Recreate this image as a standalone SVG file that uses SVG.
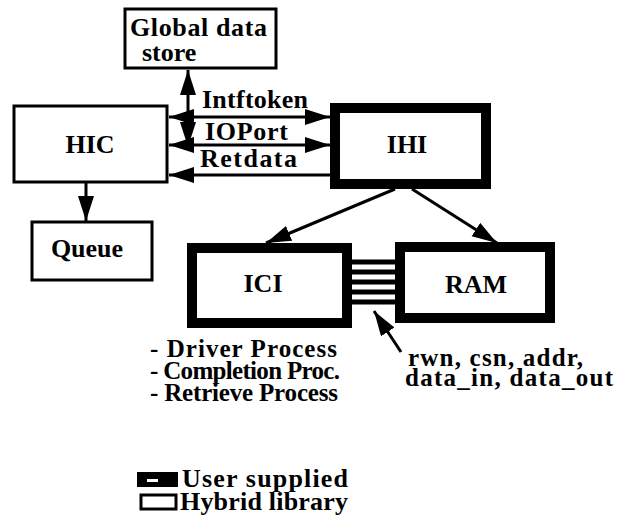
<svg xmlns="http://www.w3.org/2000/svg" width="632" height="530" viewBox="0 0 632 530">
  <style>
    text { font-family: "Liberation Serif", "DejaVu Serif", serif; font-weight: bold; font-size: 26px; fill: #000; }
    .s { font-size: 25px; }
    .thin { fill: #fff; stroke: #000; stroke-width: 3; }
    .thick { fill: #fff; stroke: #000; stroke-width: 10; }
    .c { stroke: #000; stroke-width: 3; fill: none; }
    .bus { stroke: #000; stroke-width: 5; }
  </style>
  <defs>
    <marker id="ah" markerUnits="userSpaceOnUse" markerWidth="26" markerHeight="18" refX="25" refY="8" orient="auto-start-reverse">
      <path d="M0,0 L25,8 L0,16 z" fill="#000"/>
    </marker>
  </defs>
  <rect width="632" height="530" fill="#fff"/>

  <g id="connectors">
    <line class="c" x1="188" y1="70" x2="188" y2="147" marker-start="url(#ah)" marker-end="url(#ah)"/>
    <line class="c" x1="169" y1="117" x2="330" y2="117" marker-start="url(#ah)" marker-end="url(#ah)"/>
    <line class="c" x1="169" y1="145" x2="330" y2="145" marker-start="url(#ah)" marker-end="url(#ah)"/>
    <line class="c" x1="330" y1="175" x2="169" y2="175" marker-end="url(#ah)"/>
    <line class="c" x1="86" y1="183" x2="86" y2="221" marker-end="url(#ah)"/>
    <line class="c" x1="395" y1="189" x2="266" y2="243" marker-end="url(#ah)"/>
    <line class="c" x1="412" y1="189" x2="497" y2="243" marker-end="url(#ah)"/>
    <g id="bus">
      <line class="bus" x1="352" y1="262" x2="396" y2="262"/>
      <line class="bus" x1="352" y1="272" x2="396" y2="272"/>
      <line class="bus" x1="352" y1="282" x2="396" y2="282"/>
      <line class="bus" x1="352" y1="292" x2="396" y2="292"/>
      <line class="bus" x1="352" y1="302" x2="396" y2="302"/>
    </g>
    <line class="c" x1="401" y1="352" x2="374" y2="311" marker-end="url(#ah)"/>
  </g>

  <g id="label-intftoken"><text x="202" y="108" textLength="106">Intftoken</text></g>
  <g id="label-ioport"><text x="205" y="140" textLength="83">IOPort</text></g>
  <g id="label-retdata"><text x="200" y="167" textLength="97">Retdata</text></g>

  <g id="global-data-store">
    <rect class="thin" x="125" y="9" width="151" height="59"/>
    <text x="130" y="36" textLength="137">Global data</text>
    <text x="142" y="61">store</text>
  </g>

  <g id="hic">
    <rect class="thin" x="14" y="106" width="153" height="76"/>
    <text x="90" y="153" text-anchor="middle">HIC</text>
  </g>

  <g id="ihi">
    <rect class="thick" x="335" y="108" width="151" height="76"/>
    <text x="407" y="153" text-anchor="middle">IHI</text>
  </g>

  <g id="queue">
    <rect class="thin" x="32" y="222" width="120" height="58"/>
    <text x="87" y="257" text-anchor="middle">Queue</text>
  </g>

  <g id="ici">
    <rect class="thick" x="192" y="248" width="155" height="75"/>
    <text x="263" y="292" text-anchor="middle">ICI</text>
  </g>

  <g id="ram">
    <rect class="thick" x="400" y="247" width="150" height="71"/>
    <text x="476" y="293" text-anchor="middle">RAM</text>
  </g>

  <g id="process-list">
    <text class="s" x="150" y="357" textLength="187">- Driver Process</text>
    <text class="s" x="150" y="379" textLength="190">- Completion Proc.</text>
    <text class="s" x="150" y="401" textLength="188">- Retrieve Process</text>
  </g>

  <g id="signal-label">
    <text class="s" x="408" y="366" textLength="175">rwn, csn, addr,</text>
    <text class="s" x="405" y="386" textLength="208">data_in, data_out</text>
  </g>

  <g id="legend">
    <rect x="137" y="472" width="41" height="15" fill="#000"/>
    <rect x="147" y="479" width="11" height="3" fill="#fff"/>
    <text x="182" y="487" textLength="166">User supplied</text>
    <rect class="thin" x="141" y="495" width="35" height="14"/>
    <text x="180" y="510" textLength="168">Hybrid library</text>
  </g>
</svg>
